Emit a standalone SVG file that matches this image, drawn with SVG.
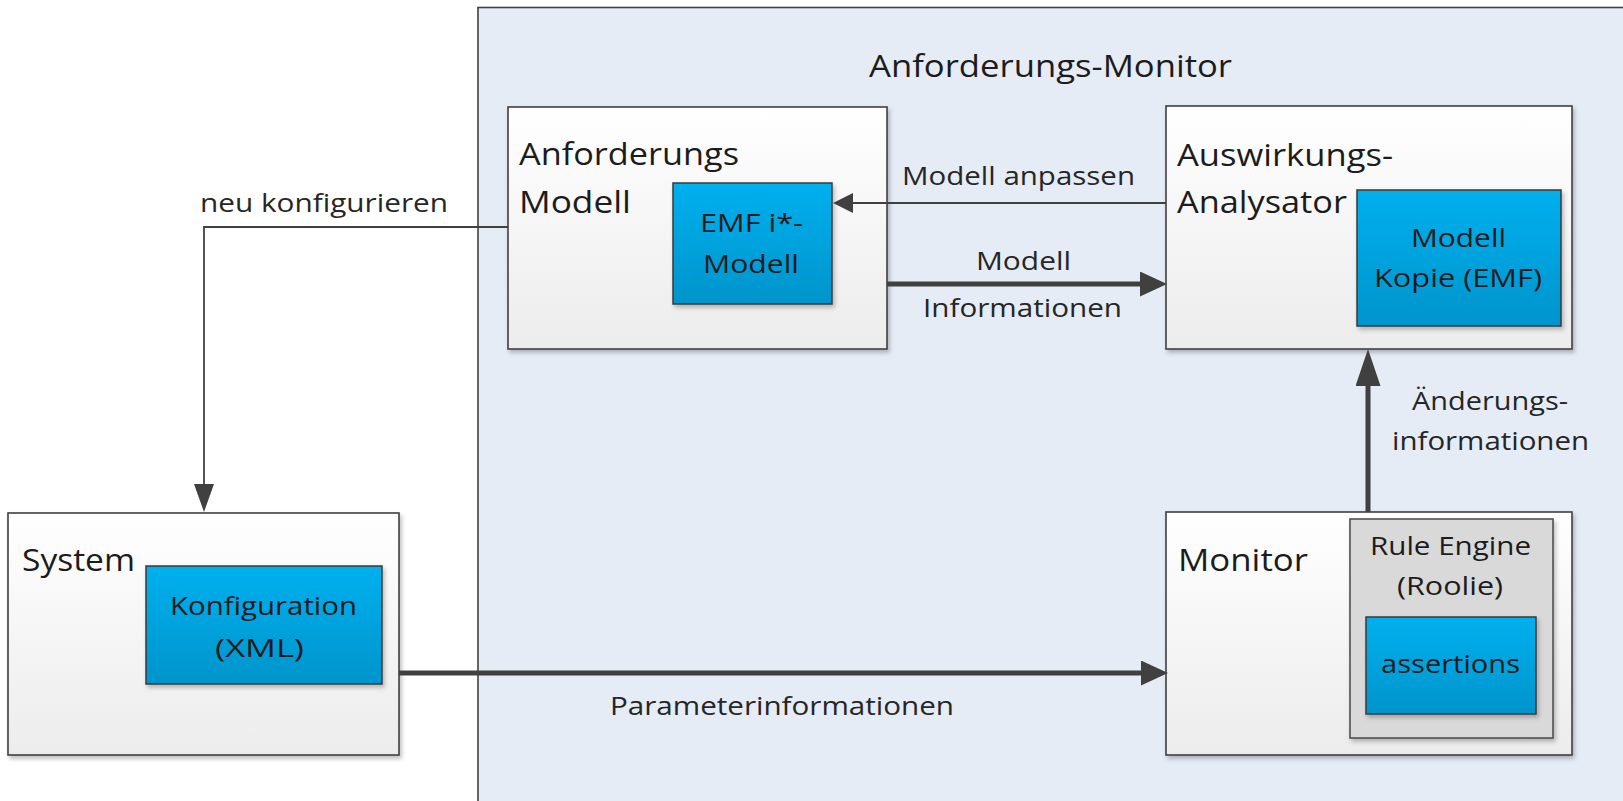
<svg xmlns="http://www.w3.org/2000/svg" width="1623" height="801" viewBox="0 0 1623 801">
<style>
text{font-family:"Open Sans","Noto Sans","Liberation Sans",sans-serif;fill:#1c1c1c}
.lbl{font-size:31px}
.in{font-size:26px}
.cl{font-size:25px;fill:#262626}
.node{fill:url(#gW);stroke:#404040;stroke-width:1.6;filter:url(#sh)}
.blue{fill:url(#gB);stroke:#383838;stroke-width:1.5;filter:url(#sh)}
.grey{fill:#d9d9d9;stroke:#505050;stroke-width:1.6;filter:url(#sh)}
.thin{fill:none;stroke:#404040;stroke-width:1.8}
.thick{fill:none;stroke:#404040;stroke-width:5}
</style>
<defs>
<linearGradient id="gW" x1="0" y1="0" x2="0" y2="1"><stop offset="0" stop-color="#ffffff"/><stop offset="1" stop-color="#ececec"/></linearGradient>
<linearGradient id="gB" x1="0" y1="0" x2="0" y2="1"><stop offset="0" stop-color="#00b0ee"/><stop offset="1" stop-color="#0094cc"/></linearGradient>
<filter id="sh" x="-5%" y="-5%" width="115%" height="115%"><feDropShadow dx="2" dy="3" stdDeviation="2" flood-color="#000" flood-opacity="0.25"/></filter>
<marker id="aThinL" markerUnits="userSpaceOnUse" markerWidth="28" markerHeight="20" viewBox="0 0 28 20" refX="14" refY="10" orient="auto"><path d="M0,0L28,10L0,20z" fill="#404040"/></marker>
<marker id="aThinS" markerUnits="userSpaceOnUse" markerWidth="20" markerHeight="20" viewBox="0 0 20 20" refX="10" refY="10" orient="auto"><path d="M0,0L20,10L0,20z" fill="#404040"/></marker>
<marker id="aThickH" markerUnits="userSpaceOnUse" markerWidth="27" markerHeight="25" viewBox="0 0 27 25" refX="10" refY="12.5" orient="auto"><path d="M0,0L27,12.5L0,25z" fill="#404040"/></marker>
<marker id="aThickV" markerUnits="userSpaceOnUse" markerWidth="37" markerHeight="25" viewBox="0 0 37 25" refX="14" refY="12.5" orient="auto"><path d="M0,0L37,12.5L0,25z" fill="#404040"/></marker>
</defs>
<rect width="1623" height="801" fill="#ffffff"/>

<g id="anforderungs-monitor">
<rect x="478" y="7.5" width="1170" height="810" fill="#e5ecf6" stroke="#404040" stroke-width="1.6"/>
<text class="lbl" x="869" y="77" textLength="363" lengthAdjust="spacingAndGlyphs">Anforderungs-Monitor</text>
</g>

<g id="anforderungs-modell">
<rect class="node" x="508" y="107" width="379" height="242"/>
<text class="lbl" x="519" y="165" textLength="220" lengthAdjust="spacingAndGlyphs">Anforderungs</text>
<text class="lbl" x="519" y="213" textLength="112" lengthAdjust="spacingAndGlyphs">Modell</text>
</g>
<g id="emf-modell">
<rect class="blue" x="673" y="183" width="159" height="121"/>
<text class="in" x="700" y="232" textLength="103" lengthAdjust="spacingAndGlyphs">EMF i*-</text>
<text class="in" x="703" y="273" textLength="96" lengthAdjust="spacingAndGlyphs">Modell</text>
</g>

<g id="auswirkungs-analysator">
<rect class="node" x="1166" y="106" width="406" height="243"/>
<text class="lbl" x="1177" y="166" textLength="216" lengthAdjust="spacingAndGlyphs">Auswirkungs-</text>
<text class="lbl" x="1177" y="213" textLength="170" lengthAdjust="spacingAndGlyphs">Analysator</text>
</g>
<g id="modell-kopie">
<rect class="blue" x="1357" y="190" width="204" height="136"/>
<text class="in" x="1411" y="247" textLength="95" lengthAdjust="spacingAndGlyphs">Modell</text>
<text class="in" x="1374" y="287" textLength="168" lengthAdjust="spacingAndGlyphs">Kopie (EMF)</text>
</g>

<g id="monitor">
<rect class="node" x="1166" y="512" width="406" height="243"/>
<text class="lbl" x="1178" y="571" textLength="130" lengthAdjust="spacingAndGlyphs">Monitor</text>
</g>
<g id="rule-engine">
<rect class="grey" x="1350" y="519" width="203" height="219"/>
<text class="in" x="1370" y="555" textLength="161" lengthAdjust="spacingAndGlyphs">Rule Engine</text>
<text class="in" x="1397" y="595" textLength="106" lengthAdjust="spacingAndGlyphs">(Roolie)</text>
</g>
<g id="assertions">
<rect class="blue" x="1366" y="617" width="170" height="97"/>
<text class="in" x="1381" y="673" textLength="139" lengthAdjust="spacingAndGlyphs">assertions</text>
</g>

<g id="system">
<rect class="node" x="8" y="513" width="391" height="242"/>
<text class="lbl" x="22" y="571" textLength="113" lengthAdjust="spacingAndGlyphs">System</text>
</g>
<g id="konfiguration">
<rect class="blue" x="146" y="566" width="236" height="118"/>
<text class="in" x="170" y="615" textLength="187" lengthAdjust="spacingAndGlyphs">Konfiguration</text>
<text class="in" x="215" y="657" textLength="89" lengthAdjust="spacingAndGlyphs">(XML)</text>
</g>

<g id="connectors">
<path class="thin" d="M508,227H204V498" marker-end="url(#aThinL)"/>
<path class="thin" d="M1166,203H843" marker-end="url(#aThinS)"/>
<path class="thick" d="M887,284H1150" marker-end="url(#aThickH)"/>
<path class="thick" d="M1368,512V372" marker-end="url(#aThickV)"/>
<path class="thick" d="M399,673H1151" marker-end="url(#aThickH)"/>
<text class="cl" x="200" y="212" textLength="248" lengthAdjust="spacingAndGlyphs">neu konfigurieren</text>
<text class="cl" x="902" y="185" textLength="233" lengthAdjust="spacingAndGlyphs">Modell anpassen</text>
<text class="cl" x="976" y="270" textLength="95" lengthAdjust="spacingAndGlyphs">Modell</text>
<text class="cl" x="923" y="317" textLength="199" lengthAdjust="spacingAndGlyphs">Informationen</text>
<text class="cl" x="1412" y="410" textLength="156" lengthAdjust="spacingAndGlyphs">Änderungs-</text>
<text class="cl" x="1392" y="450" textLength="197" lengthAdjust="spacingAndGlyphs">informationen</text>
<text class="cl" x="610" y="715" textLength="344" lengthAdjust="spacingAndGlyphs">Parameterinformationen</text>
</g>
</svg>
